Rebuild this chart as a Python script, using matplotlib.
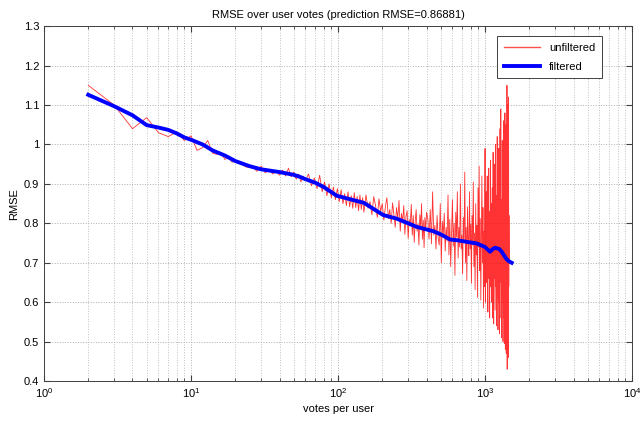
import numpy as np
import matplotlib
matplotlib.use("Agg")
import matplotlib.pyplot as plt
from matplotlib.lines import Line2D
from matplotlib.ticker import FixedLocator, LogLocator, NullFormatter

plt.rcParams['font.family'] = ['Liberation Sans', 'DejaVu Sans']
plt.rcParams['mathtext.fontset'] = 'custom'
plt.rcParams['mathtext.rm'] = 'Liberation Sans'

# unfiltered RMSE per votes-per-user (sampled)
raw_x = (list(range(2, 21)) + list(range(22, 61, 2)) + list(range(63, 151, 3))
         + list(range(155, 401, 5)) + list(range(408, 1001, 8)) + list(range(1005, 1461, 5)))
raw_y = [
    1.150, 1.100, 1.040, 1.068, 1.030, 1.020, 1.032, 1.010, 1.022, 0.985,
    0.992, 1.010, 0.978, 0.975, 0.980, 0.962, 0.968, 0.955, 0.958,
    # 22..60
    0.950, 0.942, 0.946, 0.932, 0.945, 0.928, 0.936, 0.925, 0.933, 0.922,
    0.935, 0.920, 0.940, 0.918, 0.930, 0.912, 0.925, 0.905, 0.920, 0.908,
    # 63..150
    0.925, 0.895, 0.915, 0.888, 0.922, 0.880, 0.905, 0.870, 0.900, 0.865,
    0.892, 0.860, 0.888, 0.855, 0.885, 0.850, 0.875, 0.845, 0.880, 0.842,
    0.870, 0.838, 0.878, 0.840, 0.868, 0.832, 0.872, 0.835, 0.865, 0.828,
    # 155..400
    0.872, 0.838, 0.855, 0.822, 0.868, 0.845, 0.815, 0.862, 0.830, 0.850,
    0.808, 0.842, 0.865, 0.812, 0.835, 0.800, 0.852, 0.822, 0.790, 0.840,
    0.812, 0.858, 0.780, 0.825, 0.805, 0.845, 0.772, 0.818, 0.832, 0.762,
    0.810, 0.795, 0.848, 0.770, 0.820, 0.752, 0.805, 0.835, 0.780, 0.798,
    0.745, 0.822, 0.790, 0.850, 0.760, 0.808, 0.738, 0.815, 0.782, 0.828,
    # 408..1000
    0.812, 0.760, 0.835, 0.748, 0.880, 0.770, 0.795, 0.735, 0.820, 0.762,
    0.745, 0.850, 0.700, 0.805, 0.772, 0.826, 0.730, 0.790, 0.755, 0.872,
    0.720, 0.810, 0.690, 0.780, 0.860, 0.742, 0.800, 0.668, 0.828, 0.765,
    0.880, 0.712, 0.790, 0.740, 0.900, 0.735, 0.770, 0.672, 0.815, 0.752,
    0.930, 0.700, 0.790, 0.655, 0.842, 0.760, 0.718, 0.880, 0.735, 0.798,
    0.648, 0.820, 0.745, 0.905, 0.690, 0.775, 0.632, 0.850, 0.720, 0.795,
    0.612, 0.890, 0.740, 0.945, 0.680, 0.812, 0.605, 0.770, 0.920, 0.700,
    0.840, 0.585, 0.780, 0.640, 0.990,
    # 1005..1460
    0.600, 0.800, 0.700, 0.880, 0.650, 0.760, 0.920, 0.690, 0.575, 0.810,
    0.740, 0.940, 0.660, 0.790, 0.560, 0.830, 0.710, 0.960, 0.640, 0.770,
    0.600, 0.850, 0.690, 0.890, 0.560, 0.760, 0.980, 0.700, 0.545, 0.820,
    0.660, 0.950, 0.720, 0.580, 0.800, 1.000, 0.640, 0.760, 0.540, 0.870,
    0.700, 1.020, 0.610, 0.780, 0.530, 0.840, 0.690, 0.990, 0.600, 0.760,
    0.520, 0.900, 1.040, 0.650, 0.800, 1.090, 0.560, 0.720, 0.510, 0.860,
    0.680, 1.010, 0.600, 0.780, 0.500, 0.940, 0.700, 1.060, 0.560, 0.820,
    0.495, 0.760, 1.080, 0.640, 0.480, 0.880, 0.720, 1.050, 0.470, 0.800,
    0.600, 1.150, 0.430, 0.900, 1.100, 0.520, 0.780, 0.460, 1.120, 0.640,
    0.820, 0.700,
]

# filtered RMSE
filt_x = [2, 3, 4, 5, 6, 7, 8, 9, 10, 12, 14, 17, 20, 25, 30, 40, 50, 55, 60, 70,
          80, 98, 130, 150, 203, 250, 300, 343, 445, 500, 578, 650, 751, 878, 1000,
          1081, 1130, 1170, 1250, 1298, 1350, 1403, 1450, 1518]
filt_y = [1.126, 1.097, 1.074, 1.049, 1.043, 1.037, 1.028, 1.018, 1.012, 1.000,
          0.985, 0.972, 0.958, 0.945, 0.937, 0.930, 0.923, 0.918, 0.912, 0.903,
          0.892, 0.870, 0.858, 0.852, 0.821, 0.812, 0.800, 0.791, 0.780, 0.772,
          0.759, 0.757, 0.753, 0.749, 0.740, 0.728, 0.735, 0.738, 0.735, 0.728,
          0.718, 0.709, 0.704, 0.700]

fig = plt.figure(figsize=(6.42, 4.22), dpi=100)
ax = fig.add_axes([0.0685, 0.097, 0.916, 0.841])

ax.plot(raw_x, raw_y, color='#ff0000', lw=0.6, alpha=0.8)
ax.plot(filt_x, filt_y, color='#0000ff', lw=2.8)

ax.set_xscale('log')
ax.set_xlim(1, 1e4)
ax.set_ylim(0.4, 1.3)
ax.xaxis.set_minor_locator(LogLocator(base=10, subs=np.arange(2, 10)))
ax.xaxis.set_minor_formatter(NullFormatter())
yt = [0.4, 0.5, 0.6, 0.7, 0.8, 0.9, 1.0, 1.1, 1.2, 1.3]
ax.yaxis.set_major_locator(FixedLocator(yt))
ax.set_yticklabels(['0.4', '0.5', '0.6', '0.7', '0.8', '0.9', '1', '1.1', '1.2', '1.3'])

ax.grid(True, which='major', linestyle=':', color='#b0b0b0', lw=0.7)
ax.grid(True, which='minor', axis='x', linestyle=':', color='#c0c0c0', lw=0.7)
ax.tick_params(which='both', direction='in', top=True, right=True, labelsize=8, color='#404040')
ax.tick_params(which='major', length=4)
ax.tick_params(which='minor', length=2)
for s in ax.spines.values():
    s.set_color('#404040')
    s.set_linewidth(0.7)

ax.set_title('RMSE over user votes (prediction RMSE=0.86881)', fontsize=8, pad=6)
ax.set_xlabel('votes per user', fontsize=8, labelpad=3)
ax.set_ylabel('RMSE', fontsize=8, labelpad=3)

handles = [Line2D([], [], color='#ff5050', lw=1.0),
           Line2D([], [], color='#0000ff', lw=2.8)]
leg = ax.legend(handles, ['unfiltered', 'filtered'], loc='upper right',
                bbox_to_anchor=(0.949, 0.972), borderaxespad=0,
                fontsize=8, fancybox=False, framealpha=1, edgecolor='#404040',
                handlelength=3.3, borderpad=0.6, labelspacing=0.8)
leg.get_frame().set_linewidth(0.7)

fig.savefig('out.png', dpi=100)
